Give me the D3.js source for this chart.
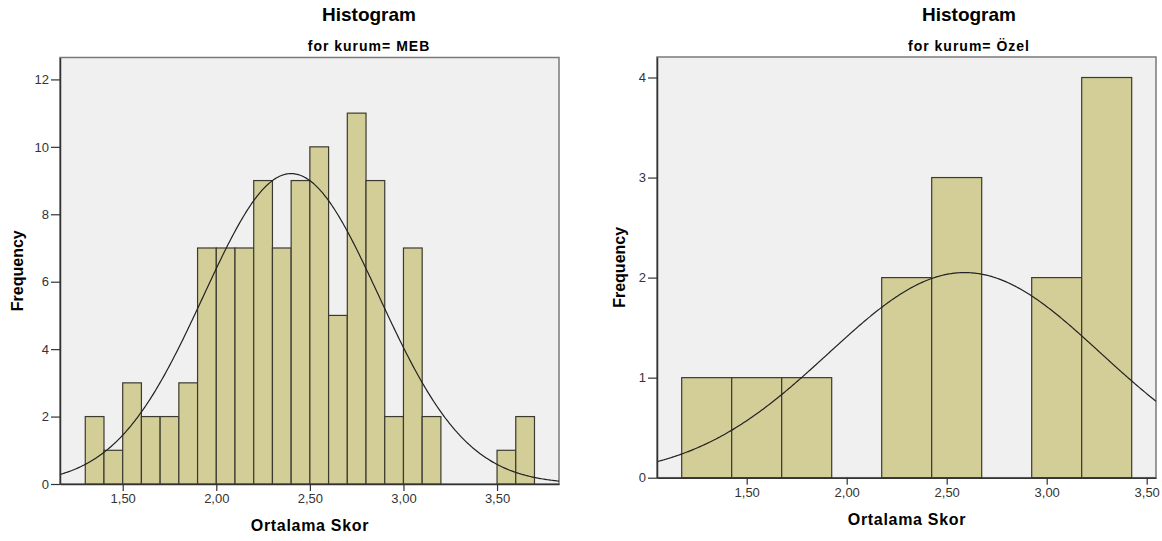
<!DOCTYPE html>
<html>
<head>
<meta charset="utf-8">
<script src="https://cdn.jsdelivr.net/npm/d3@7"></script>
<style>
  body { margin: 0; background: #fff; }
  svg text { font-family: "Liberation Sans", Arial, sans-serif; }
</style>
</head>
<body>
<script>
// Histogram of "Ortalama Skor" split by kurum (SPSS output)
const mebCounts = [2, 1, 3, 2, 2, 3, 7, 7, 7, 9, 7, 9, 10, 5, 11, 9, 2, 7, 2, 0, 0, 0, 1, 2];
const mebBinStart = 1.30;
const mebBinWidth = 0.10;
const mebMean = 2.40, mebSD = 0.468, mebN = 108;

const ozelCounts = [1, 1, 1, 0, 2, 3, 0, 2, 4];
const ozelBinStart = 1.175;
const ozelBinWidth = 0.25;
const ozelMean = 2.59, ozelSD = 0.681, ozelN = 14;

const xTicks = [1.5, 2.0, 2.5, 3.0, 3.5];
const mebYTicks = [0, 2, 4, 6, 8, 10, 12];
const ozelYTicks = [0, 1, 2, 3, 4];

const trLocale = d3.formatLocale({decimal: ",", thousands: ".", grouping: [3], currency: ["", ""]});
const fmtX = trLocale.format(".2f");
const fmtY = d3.format("d");

const svg = d3.select("body").append("svg")
	.attr("width", 1162)
	.attr("height", 541);

function histogram(opt) {
	const x = d3.scaleLinear().domain(opt.xDomain).range([opt.left, opt.right]);
	const y = d3.scaleLinear().domain(opt.yDomain).range([opt.bottom, opt.top]);
	const g = svg.append("g");

	g.append("rect")
		.attr("x", opt.left).attr("y", opt.top)
		.attr("width", opt.right - opt.left).attr("height", opt.bottom - opt.top)
		.attr("fill", "#f0f0f0")
		.attr("stroke", "#7a7a7a")
		.attr("stroke-width", 1.5);

	const bins = opt.counts.map((c, i) => ({
		x0: opt.binStart + i * opt.binWidth,
		x1: opt.binStart + (i + 1) * opt.binWidth,
		count: c
	})).filter(b => b.count > 0);

	g.selectAll("rect.bar")
		.data(bins)
		.join("rect")
		.attr("class", "bar")
		.attr("x", b => x(b.x0))
		.attr("y", b => y(b.count))
		.attr("width", b => x(b.x1) - x(b.x0))
		.attr("height", b => y(0) - y(b.count))
		.attr("fill", "#d3ce98")
		.attr("stroke", "#3b3a30")
		.attr("stroke-width", 1.2);

	// fitted normal curve
	const scale = opt.n * opt.binWidth / (opt.sd * Math.sqrt(2 * Math.PI));
	const pts = d3.range(0, 401).map(i => {
		const v = opt.xDomain[0] + (opt.xDomain[1] - opt.xDomain[0]) * i / 400;
		const z = (v - opt.mean) / opt.sd;
		return [v, scale * Math.exp(-0.5 * z * z)];
	});
	g.append("path")
		.datum(pts)
		.attr("fill", "none")
		.attr("stroke", "#222")
		.attr("stroke-width", 1.2)
		.attr("d", d3.line().x(d => x(d[0])).y(d => y(d[1])));

	const ax = g.append("g")
		.attr("transform", `translate(0,${opt.bottom})`)
		.call(d3.axisBottom(x).tickValues(xTicks).tickFormat(fmtX).tickSize(7).tickSizeOuter(0).tickPadding(3));
	const ay = g.append("g")
		.attr("transform", `translate(${opt.left},0)`)
		.call(d3.axisLeft(y).tickValues(opt.yTicks).tickFormat(fmtY).tickSize(9).tickSizeOuter(0).tickPadding(2));
	[ax, ay].forEach(a => {
		a.select(".domain").attr("stroke", "#333").attr("stroke-width", 1.5);
		a.selectAll(".tick line").attr("stroke", "#333").attr("stroke-width", 1.2);
		a.selectAll(".tick text").attr("fill", "#333").style("font-size", "13px");
	});

	g.append("text")
		.attr("x", opt.titleX).attr("y", 21)
		.attr("text-anchor", "middle")
		.style("font-size", "19px").style("font-weight", "bold")
		.text("Histogram");
	g.append("text")
		.attr("x", opt.titleX).attr("y", 51)
		.attr("text-anchor", "middle")
		.style("font-size", "14px").style("font-weight", "bold")
		.style("letter-spacing", "1px")
		.text(opt.subtitle);
	g.append("text")
		.attr("x", opt.xLabelX).attr("y", opt.xLabelY)
		.attr("text-anchor", "middle")
		.style("font-size", "16px").style("font-weight", "bold")
		.style("letter-spacing", "0.7px")
		.text("Ortalama Skor");
	g.append("text")
		.attr("transform", `translate(${opt.yLabelX},${(opt.top + opt.bottom) / 2}) rotate(-90)`)
		.attr("text-anchor", "middle")
		.style("font-size", "16px").style("font-weight", "bold")
		.text("Frequency");
}

histogram({
	counts: mebCounts, binStart: mebBinStart, binWidth: mebBinWidth,
	mean: mebMean, sd: mebSD, n: mebN,
	xDomain: [1.165, 3.831], yDomain: [0, 12.65], yTicks: mebYTicks,
	left: 60, right: 559, top: 57.5, bottom: 484,
	titleX: 369, subtitle: "for kurum= MEB",
	xLabelX: 310, xLabelY: 531, yLabelX: 23
});

histogram({
	counts: ozelCounts, binStart: ozelBinStart, binWidth: ozelBinWidth,
	mean: ozelMean, sd: ozelSD, n: ozelN,
	xDomain: [1.0515, 3.5465], yDomain: [0, 4.205], yTicks: ozelYTicks,
	left: 657, right: 1156, top: 57, bottom: 477.7,
	titleX: 969, subtitle: "for kurum= Özel",
	xLabelX: 907, xLabelY: 525, yLabelX: 625
});
</script>
</body>
</html>
